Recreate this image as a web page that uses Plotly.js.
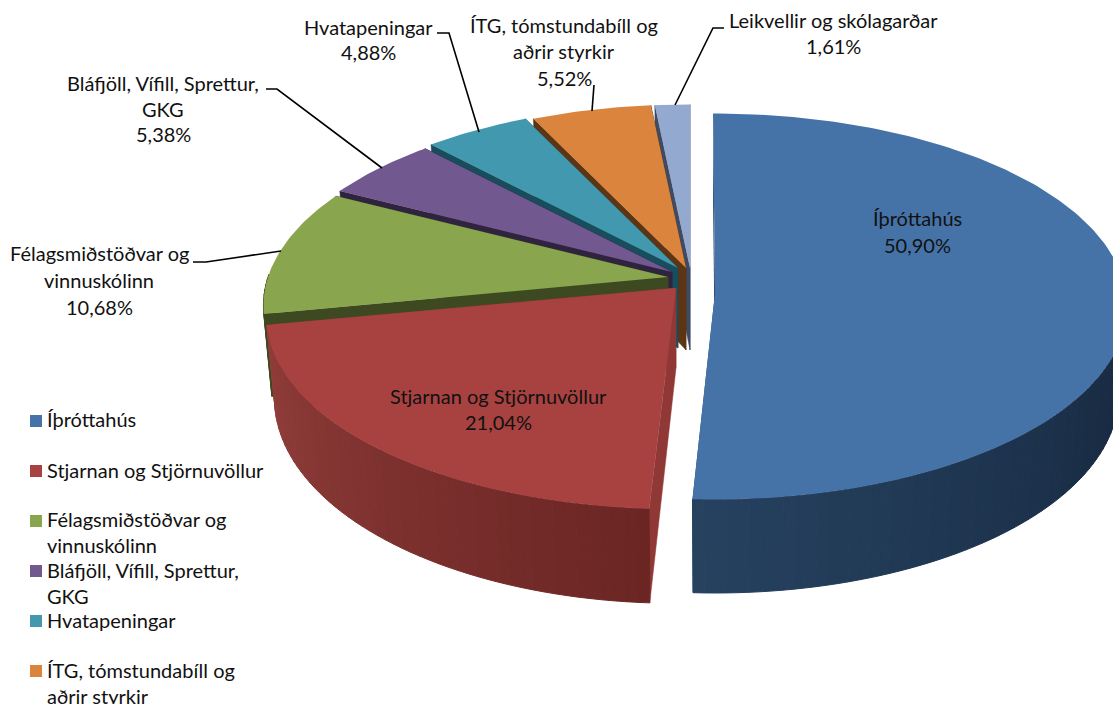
<!DOCTYPE html>
<html>
<head>
<meta charset="utf-8">
<script src="https://cdn.plot.ly/plotly-3.0.1.min.js"></script>
<style>html,body{margin:0;padding:0;background:#fff;overflow:hidden}#chart{width:1113px;height:704px}</style>
</head>
<body>
<div id="chart"></div>
<script>
// ---------- data ----------
const categories = ["Íþróttahús","Stjarnan og Stjörnuvöllur","Félagsmiðstöðvar og vinnuskólinn","Bláfjöll, Vífill, Sprettur, GKG","Hvatapeningar","ÍTG, tómstundabíll og aðrir styrkir","Leikvellir og skólagarðar"];
const percentages = [50.90,21.04,10.68,5.38,4.88,5.52,1.61];
const labelLines = [["Íþróttahús"],["Stjarnan og Stjörnuvöllur"],["Félagsmiðstöðvar og","vinnuskólinn"],["Bláfjöll, Vífill, Sprettur,","GKG"],["Hvatapeningar"],["ÍTG, tómstundabíll og","aðrir styrkir"],["Leikvellir og skólagarðar"]];
const legendLines = labelLines.slice(0,6);

// ---------- styles ----------
const topColors = ["#4573A7","#A84240","#89A54E","#71588F","#4198AF","#DB843D","#93A9CF"];
const faceColors = ["#24405f","#8F3836","#3D4A21","#2F2340","#174D5C","#5E3512","#3F4A64"];
const faceStroke = [0,.5,.5,.5,.5,.5,.5];
const wallFrom = [[38,66,96],[107,38,36],[61,74,33],[47,35,64],[23,77,92],[94,53,18],[63,74,100]];
const wallTo   = [[25,44,68],[146,62,59],[61,74,33],[47,35,64],[23,77,92],[94,53,18],[63,74,100]];
const FONT = "Lato, Carlito, sans-serif", FS = 20, TXT = "#111";

// ---------- projection of each exploded slice ----------
const apexX = [715,676,668,672,678,686,690];
const apexY = [293,288,277,272,268,268,268];
const radX  = [411,405,400,400,400,400,400];
const radY  = [192,188,188,188,188,188,188];
const persp = [.07,.15,.15,.15,.15,.15,.15];
const depth = [87,80,80,80,80,82,82];
const rotDeg= [-.3,0,0,0,0,0,0];
const SHRINK = .98;

const total = percentages.reduce((a,b)=>a+b,0);
let acc = 0;
const ranges = percentages.map(p=>{const a=acc/total*360; acc+=p; return [a,acc/total*360];});

function pt(i,deg,low){
  const th=(deg+rotDeg[i])*Math.PI/180, u=Math.sin(th), v=Math.cos(th);
  const s=1/(1+persp[i]*v);
  let x=apexX[i]+radX[i]*u*s, y=apexY[i]-radY[i]*v*s;
  if(low){ x=apexX[i]+(x-apexX[i])*SHRINK; y+=depth[i]*s; }
  return [x,y];
}
function poly(pts,color,w){
  return {type:"scatter",mode:"lines",x:pts.map(p=>p[0]).concat(pts[0][0]),y:pts.map(p=>p[1]).concat(pts[0][1]),
    fill:"toself",fillcolor:color,line:{color:color,width:w||0},hoverinfo:"skip",showlegend:false};
}
function mix(a,b,t){return "rgb("+a.map((c,k)=>Math.round(c+(b[k]-c)*t)).join(",")+")";}

const traces=[];
for(let i=categories.length-1;i>=0;i--){
  const [a0,a1]=ranges[i];
  const apexTop=[apexX[i],apexY[i]], apexLow=[apexX[i],apexY[i]+depth[i]];
  // cut faces
  for(const a of [a0,a1]) traces.push(poly([apexTop,pt(i,a,false),pt(i,a,true),apexLow],faceColors[i],faceStroke[i]));
  // outer wall, in shaded bands (the rear part of the rim hides its wall)
  const step=1.5, n=Math.ceil((a1-a0)/step);
  for(let b=0;b<n;b++){
    const s0=a0+(a1-a0)*b/n, s1=a0+(a1-a0)*(b+1)/n;
    if(Math.cos(s0*Math.PI/180)>0 && Math.cos(s1*Math.PI/180)>0) continue;
    const pts=[pt(i,s0,false),pt(i,s1,false),pt(i,s1,true),pt(i,s0,true)];
    // shading runs from the front of the pie towards its side
    const t=i===0?Math.min(1,(183-s0)/70):(s0-a0)/(a1-a0);
    traces.push(poly(pts,mix(wallFrom[i],wallTo[i],t),1));
  }
  // top surface
  const top=[apexTop];
  for(let d=a0;d<a1;d+=1) top.push(pt(i,d,false));
  top.push(pt(i,a1,false));
  traces.push(poly(top,topColors[i],0));
}

// ---------- leader lines ----------
const leaderX=[[193,206,281],[266,277,382],[437,449,479],[594,592],[724,713,675]];
const leaderY=[[262,262,251],[89,89,168],[33,33,132],[85,111],[28,28,105]];
leaderX.forEach((x,k)=>traces.push({type:"scatter",mode:"lines",x:x,y:leaderY[k],line:{color:"#000",width:1.6},hoverinfo:"skip",showlegend:false}));

// ---------- legend swatches ----------
const swatchX=36, swatchY=[421,471,521,571,621,671];
traces.push({type:"scatter",mode:"markers",x:swatchY.map(()=>swatchX),y:swatchY,
  marker:{symbol:"square",size:12,color:topColors.slice(0,6),line:{width:0}},hoverinfo:"skip",showlegend:false});

// ---------- text ----------
const anns=[];
function txt(t,x,y,anchor){anns.push({text:t,x:x,y:y-1.5,xref:"x",yref:"y",showarrow:false,xanchor:anchor||"center",yanchor:"middle",
  font:{family:FONT,size:FS,color:TXT},borderpad:0,captureevents:false});}
const fmt=v=>v.toFixed(2).replace(".",",")+"%";
const labelCx=[917,498,99,163,368,564,833];
const labelCy=[[219,246],[397,423],[254,281,308],[84,110,135],[28,53],[26,52,79],[21,47]];
labelLines.forEach((ls,i)=>{
  ls.concat(fmt(percentages[i])).forEach((t,k)=>txt(t,labelCx[i],labelCy[i][k]));
});
const legendTextX=46;
const legendTextY=[[420],[471],[520,546],[571,597],[621],[671,697]];
legendLines.forEach((ls,i)=>ls.forEach((t,k)=>txt(t,legendTextX,legendTextY[i][k],"left")));

Plotly.newPlot("chart",traces,{
  width:1113,height:704,margin:{l:0,r:0,t:0,b:0},paper_bgcolor:"#fff",plot_bgcolor:"#fff",showlegend:false,
  xaxis:{range:[0,1113],visible:false,fixedrange:true},
  yaxis:{range:[704,0],visible:false,fixedrange:true},
  annotations:anns,hovermode:false
},{displayModeBar:false,staticPlot:true});
</script>
</body>
</html>
